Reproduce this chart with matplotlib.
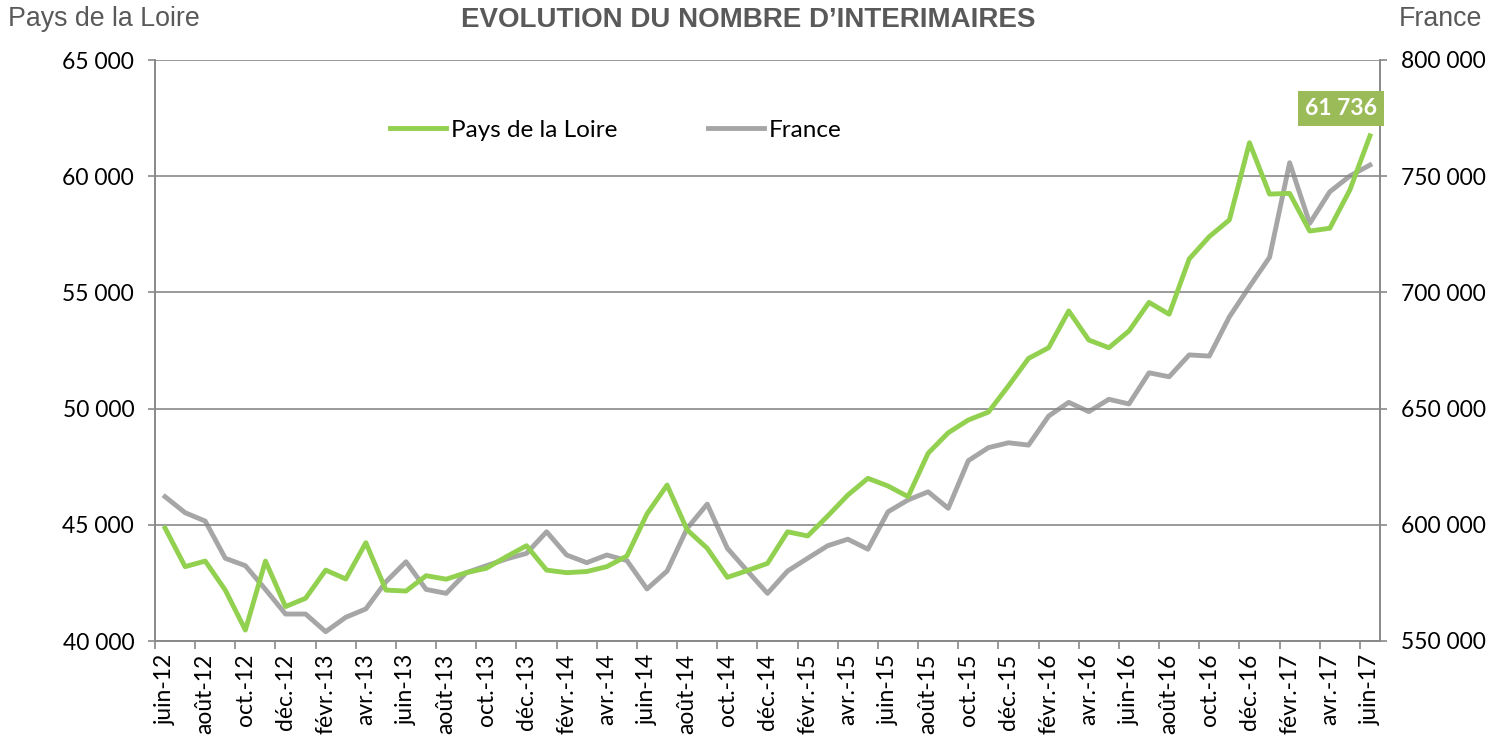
import matplotlib.pyplot as plt
from matplotlib.ticker import FuncFormatter, FixedLocator

# monthly labels juin-12 .. juin-17
mois = ['janv.', 'févr.', 'mars', 'avr.', 'mai', 'juin',
        'juil.', 'août', 'sept.', 'oct.', 'nov.', 'déc.']
labels = []
m, y = 5, 12
for _ in range(61):
    labels.append(mois[m] + '-' + str(y))
    m += 1
    if m == 12:
        m, y = 0, y + 1

pdl = [44860, 43200, 43440, 42190, 40470, 43440, 41480, 41840, 43050, 42670,
       44230, 42190, 42150, 42810, 42660, 42940, 43130, 43630, 44100, 43050,
       42940, 42990, 43200, 43660, 45470, 46710, 44780, 43990, 42740, 43030,
       43340, 44700, 44520, 45380, 46280, 47000, 46670, 46210, 48080, 48960,
       49510, 49850, 50980, 52160, 52620, 54200, 52950, 52620, 53340, 54570,
       54060, 56440, 57400, 58120, 61440, 59230, 59260, 57640, 57760, 59410,
       61736]

france = [612100, 605200, 601600, 585600, 582400, 572200, 561600, 561600, 554000, 560200,
          563800, 575500, 584100, 572200, 570500, 579400, 582400, 585300, 587700, 597000,
          587000, 583700, 587000, 584600, 572400, 580100, 598500, 608900, 589900, 580100,
          570500, 580100, 585600, 591000, 593800, 589500, 605600, 610700, 614200, 607100,
          627600, 633200, 635300, 634300, 646800, 652700, 648700, 654000, 652000, 665400,
          663700, 673100, 672600, 689500, 702500, 715100, 755800, 729700, 743300, 750100,
          754800]

green = '#92D050'
grey = '#A6A6A6'
txt = '#595959'
gridc = '#898989'
W, H = 1497, 745

def fmt(v, pos):
    return '{:,.0f}'.format(v).replace(',', ' ')

fig = plt.figure(figsize=(W / 100, H / 100), dpi=100)
ax = fig.add_axes([155 / W, 1 - 641 / H, 1225 / W, 581 / H])
ax2 = ax.twinx()

x = list(range(len(labels)))
l1, = ax.plot(x, pdl, color=green, lw=3.5, label='Pays de la Loire', zorder=3)
l2, = ax2.plot(x, france, color=grey, lw=3.5, label='France', zorder=2)
ax.set_zorder(ax2.get_zorder() + 1)
ax.patch.set_visible(False)

ax.set_xlim(-0.5, 60.5)
ax.set_ylim(40000, 65000)
ax2.set_ylim(550000, 800000)
ax.set_yticks(range(40000, 65001, 5000))
ax2.set_yticks(range(550000, 800001, 50000))
ax.yaxis.set_major_formatter(FuncFormatter(fmt))
ax2.yaxis.set_major_formatter(FuncFormatter(fmt))
ax.grid(axis='y', color=gridc, lw=1.2)

ax.set_xticks(x[::2])
ax.set_xticklabels(labels[::2], rotation=90, fontsize=16.5, family='Lato')
ax.xaxis.set_minor_locator(FixedLocator([i - 0.5 for i in range(0, 62, 2)]))
ax.tick_params(axis='x', which='major', length=0, pad=9)
ax.tick_params(axis='x', which='minor', length=6, color=gridc, width=1.2)
ax.tick_params(axis='y', length=5, color=gridc, width=1.2, labelsize=16.5, pad=10)
ax2.tick_params(axis='y', length=5, color=gridc, width=1.2, labelsize=16.5, pad=10)
for t in ax.get_yticklabels() + ax2.get_yticklabels():
    t.set_family('Lato')

for a in (ax, ax2):
    a.spines['top'].set_visible(False)
    for s in ('left', 'right', 'bottom'):
        a.spines[s].set_color(gridc)
        a.spines[s].set_linewidth(1.2)

leg = fig.legend(handles=[l1, l2], loc='center left', bbox_to_anchor=(390 / W, 1 - 130 / H),
                 ncol=2, frameon=False, handlelength=2.3, columnspacing=3.75,
                 handletextpad=0.2, borderpad=0, borderaxespad=0,
                 prop={'family': 'Lato', 'size': 17.5})

ax.annotate('61 736', xy=(60, pdl[-1]), xytext=(-29, 27), textcoords='offset pixels',
            ha='center', va='center', color='white', fontsize=16.5, fontweight='bold',
            family='Lato',
            bbox=dict(boxstyle='square,pad=0.3', fc='#9BBB59', ec='none'),
            annotation_clip=False, zorder=5)

fig.text(0.5, 1 - 20 / H, 'EVOLUTION DU NOMBRE D\u2019INTERIMAIRES', ha='center', va='center',
         fontsize=20, fontweight='bold', color=txt, family='Liberation Sans')
fig.text(8 / W, 1 - 19 / H, 'Pays de la Loire', ha='left', va='center',
         fontsize=19.3, color=txt, family='Liberation Sans')
fig.text(1482 / W, 1 - 19 / H, 'France', ha='right', va='center',
         fontsize=19.3, color=txt, family='Liberation Sans')

fig.savefig('out.png', dpi=100)
